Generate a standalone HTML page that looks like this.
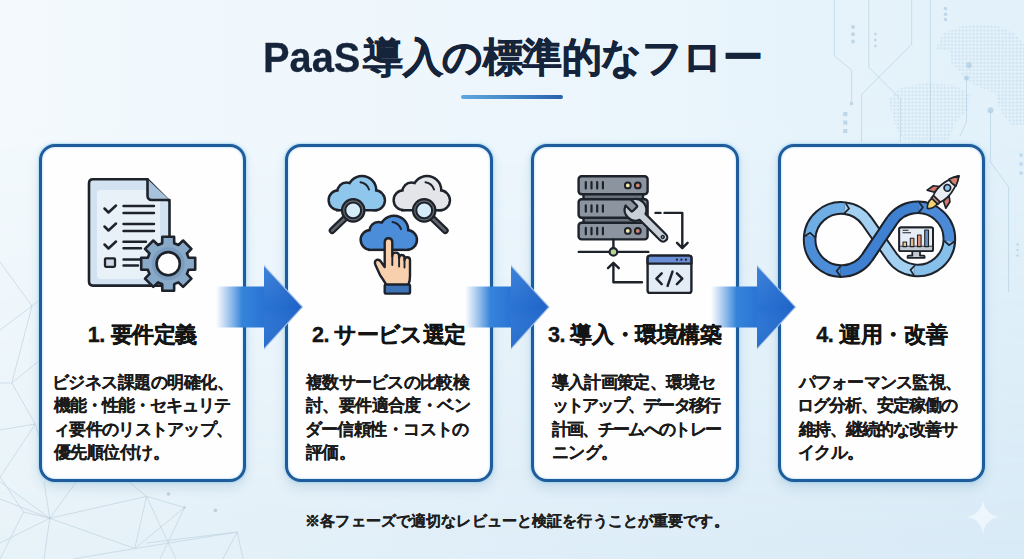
<!DOCTYPE html>
<html lang="ja">
<head>
<meta charset="utf-8">
<style>
html,body{margin:0;padding:0;}
body{width:1024px;height:559px;overflow:hidden;position:relative;
 font-family:"Liberation Sans",sans-serif;
 background:linear-gradient(90deg,#e8f3f8 0%,#dfeef8 50%,#d9ebf7 100%);}
.bgtop{position:absolute;left:0;top:0;width:1024px;height:559px;
 background:linear-gradient(90deg,#f3f9fd 0%,#edf6fc 50%,#e2f1fa 100%);
 -webkit-mask-image:linear-gradient(180deg,#000 0%,#000 20%,rgba(0,0,0,0.55) 60%,rgba(0,0,0,0) 100%);}
.bg{position:absolute;left:0;top:0;width:1024px;height:559px;}
.tl1{position:absolute;left:263px;top:32.5px;font-size:43px;font-weight:bold;color:#15243a;white-space:nowrap;
 transform:scaleX(0.925);transform-origin:0 0;-webkit-text-stroke:0.3px #15243a;}
.tl2{position:absolute;left:363.4px;top:30px;font-size:40px;font-weight:bold;color:#15243a;white-space:nowrap;
 -webkit-text-stroke:0.7px #15243a;letter-spacing:-0.53px;}
.uline{position:absolute;left:461px;top:95px;width:102px;height:4px;border-radius:2px;
 background:linear-gradient(90deg,#5ea9de,#2a62ac);}
.card{position:absolute;top:144px;width:201px;height:332px;border:3px solid #1f5c9b;border-radius:16px;background:#fefeff;
 box-shadow:0 0 1px 1px rgba(140,205,240,0.45),0 0 5px 0px rgba(120,195,235,0.22),0 6px 12px rgba(40,100,150,0.14),inset 0 0 2px 1px rgba(160,215,245,0.45);}
.h{position:absolute;top:319.5px;font-size:21.6px;font-weight:bold;color:#141414;
 -webkit-text-stroke:0.35px #141414;white-space:nowrap;}
.t{position:absolute;font-size:17px;line-height:23.3px;font-weight:bold;color:#1a1a1a;white-space:nowrap;
 -webkit-text-stroke:0.1px #1a1a1a;}
.note{position:absolute;top:512px;left:305.2px;letter-spacing:0.126px;font-size:15px;font-weight:bold;color:#1e1e1e;white-space:nowrap;
 -webkit-text-stroke:0.2px #1e1e1e;}
svg.ov{position:absolute;left:0;top:0;z-index:1;}
.h,.t,.note{z-index:2;}
</style>
</head>
<body>
<div class="bgtop"></div>
<svg class="bg" width="1024" height="559" viewBox="0 0 1024 559">
<defs>
<pattern id="dots" x="0" y="0" width="3.6" height="3.6" patternUnits="userSpaceOnUse">
<rect x="0.6" y="0.6" width="2" height="2" fill="#9fc2de"/>
</pattern>
<radialGradient id="spk" cx="0.5" cy="0.5" r="0.5"><stop offset="0" stop-color="#fff" stop-opacity="0.9"/><stop offset="1" stop-color="#fff" stop-opacity="0.5"/></radialGradient>
</defs>
<g opacity="0.32" fill="url(#dots)">
<path d="M935,50 L943,33 L965,25 L995,25 L1014,33 L1024,44 V50 Z"/>
<path d="M950,50 H1024 V92 H992 L976,86 L962,76 L951,62 Z"/>
<path d="M889,100 L899,88 L925,83 L955,85 L970,94 L968,110 L956,121 L948,141 H904 L895,126 Z"/>
<path d="M995,92 H1024 V125 H1011 L1000,110 Z"/>
</g>
<g fill="none" stroke="#abc9de" stroke-width="0.9" opacity="0.6">
<path d="M834.4,0 V55.8 L851.6,70.2 V102"/>
<path d="M868.8,0 V67.3 L900.3,98.8 V142"/>
<path d="M911.7,0 V44.4 L861.6,94.5 V142"/>
<path d="M930.4,0 V142"/>
<path d="M966.5,78 V122 L960,136"/>
<path d="M990.5,110 V162 L1008.6,187 V292"/>
</g>
<g fill="#a7c6dd" opacity="0.6">
<circle cx="853" cy="27" r="2"/><circle cx="853" cy="34.2" r="2"/><circle cx="853" cy="41.5" r="2"/>
<rect x="874.2" y="32.8" width="2.4" height="2.4"/><rect x="874.2" y="38.8" width="2.4" height="2.4"/><rect x="874.2" y="44.8" width="2.4" height="2.4"/>
<circle cx="945.5" cy="8.6" r="1.8"/><circle cx="945.5" cy="14.3" r="1.8"/><circle cx="945.5" cy="19.5" r="1.8"/>
<rect x="843.2" y="112" width="4.2" height="4.2"/><rect x="843.2" y="120.5" width="4.2" height="4.2"/><rect x="843.2" y="129" width="4.2" height="4.2"/>
<rect x="850" y="102" width="3.2" height="3.2"/>
<circle cx="990.5" cy="110.3" r="3"/><rect x="1019.5" y="153.5" width="3.2" height="3.2"/><rect x="1019.5" y="162.5" width="3.2" height="3.2"/><rect x="1019.5" y="171.5" width="3.2" height="3.2"/><circle cx="1017.6" cy="244.5" r="1.2"/><circle cx="1017.6" cy="250" r="1.2"/><circle cx="1017.6" cy="255.5" r="1.2"/><circle cx="969" cy="65.3" r="3"/><circle cx="966.5" cy="78" r="2.5"/>
</g>
<g fill="none" stroke="#b9cedd" stroke-width="0.8" opacity="0.75">
<path d="M0,330 L32,306 L40,300 M32,306 L11.8,383 L35.3,424 L0,477 M0,262 L32,306 M0,383 L11.8,383 M11.8,383 L40,360 M35.3,424 L40,440 M0,430 L35.3,424 M23.5,512 L0,477"/>
<path d="M0,481.7 L49.8,518.3 L0,499 M49.8,518.3 L44,481.7 M49.8,518.3 L76,482 M49.8,518.3 L0,543 M49.8,518.3 L146.5,496.4 M49.8,518.3 L134.8,548.5 M49.8,518.3 L44,559 M146.5,496.4 L134.8,548.5 M146.5,496.4 L184.6,507.5 M146.5,496.4 L129,482 M146.5,496.4 L176,559 M134.8,548.5 L184.6,507.5 M134.8,548.5 L73,559 M146.5,543 L237.3,532 M237.3,532 L243,559 M237.3,532 L222.7,559 M184.6,507.5 L160,559 M134.8,548.5 L237.3,532 M0,559 L23.5,512 M23.5,512 L49.8,518.3"/>
</g>
<g fill="#b3c8d8" opacity="0.8">
<circle cx="168.5" cy="494" r="1.8"/><circle cx="215.4" cy="510.4" r="1.8"/><circle cx="184.6" cy="507.5" r="1.2"/><circle cx="49.8" cy="518.3" r="1"/>
</g>
<path d="M983,500 Q985,515 999,517 Q985,519 983,534 Q981,519 967,517 Q981,515 983,500 Z" fill="#f4faff" opacity="0.75"/>
</svg>

<div class="tl1">PaaS</div><div class="tl2">導入の標準的なフロー</div>
<div class="uline"></div>

<div class="card" style="left:39px"></div>
<div class="card" style="left:285px;width:202px"></div>
<div class="card" style="left:531px;width:202px"></div>
<div class="card" style="left:778px"></div>

<!--H-->
<div class="h" style="left:87.70px;letter-spacing:-0.367px">1. 要件定義</div>
<div class="h" style="left:312.10px;letter-spacing:-0.625px">2. サービス選定</div>
<div class="h" style="left:547.90px;letter-spacing:-0.467px">3. 導入・環境構築</div>
<div class="h" style="left:816.20px;letter-spacing:-0.357px">4. 運用・改善</div>
<!--/H-->

<!--TEXT-->
<div class="t" style="left:52.00px;top:371.0px;letter-spacing:-0.550px">ビジネス課題の明確化、</div>
<div class="t" style="left:54.00px;top:394.3px;letter-spacing:-1.000px">機能・性能・セキュリテ</div>
<div class="t" style="left:53.00px;top:417.6px;letter-spacing:-0.700px">ィ要件のリストアップ、</div>
<div class="t" style="left:54.00px;top:440.9px;letter-spacing:-0.583px">優先順位付け。</div>
<div class="t" style="left:306.00px;top:371.0px;letter-spacing:-0.722px">複数サービスの比較検</div>
<div class="t" style="left:306.00px;top:394.3px;letter-spacing:-0.611px">討、要件適合度・ベン</div>
<div class="t" style="left:304.50px;top:417.6px;letter-spacing:-0.556px">ダー信頼性・コストの</div>
<div class="t" style="left:306.00px;top:440.9px;letter-spacing:-0.750px">評価。</div>
<div class="t" style="left:551.50px;top:371.0px;letter-spacing:-0.611px">導入計画策定、環境セ</div>
<div class="t" style="left:551.50px;top:394.3px;letter-spacing:-1.750px">ットアップ、データ移行</div>
<div class="t" style="left:551.50px;top:417.6px;letter-spacing:-1.650px">計画、チームへのトレー</div>
<div class="t" style="left:551.50px;top:440.9px;letter-spacing:-0.500px">ニング。</div>
<div class="t" style="left:798.50px;top:371.0px;letter-spacing:-0.722px">パフォーマンス監視、</div>
<div class="t" style="left:796.50px;top:394.3px;letter-spacing:-1.000px">ログ分析、安定稼働の</div>
<div class="t" style="left:798.50px;top:417.6px;letter-spacing:-1.222px">維持、継続的な改善サ</div>
<div class="t" style="left:797.50px;top:440.9px;letter-spacing:-0.500px">イクル。</div>
<!--/TEXT-->

<div class="note">※各フェーズで適切なレビューと検証を行うことが重要です。</div>

<svg class="ov" width="1024" height="559" viewBox="0 0 1024 559">
<defs>
 <linearGradient id="ag" x1="0" x2="1" y1="0" y2="0">
  <stop offset="0" stop-color="#4a90dc" stop-opacity="0"/>
  <stop offset="0.13" stop-color="#4a90dc" stop-opacity="0.45"/>
  <stop offset="0.3" stop-color="#3584da" stop-opacity="1"/>
  <stop offset="0.55" stop-color="#2a74d4"/>
  <stop offset="1" stop-color="#1f63c7"/>
 </linearGradient>
 <linearGradient id="ah" x1="0" x2="0" y1="0" y2="1">
  <stop offset="0" stop-color="#ffffff" stop-opacity="0.10"/>
  <stop offset="0.5" stop-color="#ffffff" stop-opacity="0"/>
  <stop offset="1" stop-color="#0a3d8a" stop-opacity="0.12"/>
 </linearGradient>
</defs>
<g id="ic1" stroke="#1d222b" stroke-width="2.6" stroke-linejoin="round" stroke-linecap="round">
 <path d="M93,179.3 H147.5 L169.5,201.3 V281.5 Q169.5,285.6 165.4,285.6 H93 Q89,285.6 89,281.5 V183.4 Q89,179.3 93,179.3 Z" fill="#d3e2f0"/>
 <rect x="97" y="190" width="63" height="89" rx="3" fill="#e8f0f8" stroke="none"/>
 <path d="M147.5,179.3 V195.5 Q147.5,200 152,200 H169.5" fill="#a8c2dc"/>
 <path d="M104.5,208.5 L108.5,212.5 L116,205.5 M104.5,226.5 L108.5,230.5 L116,223.5 M104.5,244.5 L108.5,248.5 L116,241.5" fill="none" stroke-width="2.5"/>
 <rect x="105" y="258.3" width="10" height="8.5" rx="1" fill="#cdd9e6" stroke-width="2.3"/>
 <path d="M123.5,206 H154 M123.5,213 H154 M123.5,224 H154 M123.5,231 H154 M123.5,241.8 H146 M123.5,248.2 H141 M123.5,259.5 H140 M123.5,265.5 H138" fill="none" stroke-width="2.4"/>
 <path d="M188.6,257.7 L195.2,257.8 L195.2,269.6 L188.6,269.7 L186.9,273.9 L191.4,278.6 L183.1,286.9 L178.4,282.4 L174.2,284.1 L174.1,290.7 L162.3,290.7 L162.2,284.1 L158.0,282.4 L153.3,286.9 L145.0,278.6 L149.5,273.9 L147.8,269.7 L141.2,269.6 L141.2,257.8 L147.8,257.7 L149.5,253.5 L145.0,248.8 L153.3,240.5 L158.0,245.0 L162.2,243.3 L162.3,236.7 L174.1,236.7 L174.2,243.3 L178.4,245.0 L183.1,240.5 L191.4,248.8 L186.9,253.5Z" fill="#89a9c8"/>
 <circle cx="168.2" cy="263.7" r="16.5" fill="#7a9cbe" stroke="none"/>
 <circle cx="168.2" cy="263.7" r="11.6" fill="#ffffff"/>
</g>
<g id="ic2"><g fill="#1d222b" stroke="#1d222b" stroke-width="5.0"><circle cx="338.5" cy="200.2" r="8.6"/><circle cx="346.5" cy="191.5" r="7.8"/><circle cx="362.0" cy="190.3" r="13"/><circle cx="375.0" cy="200.3" r="8.7"/><rect x="338.5" y="196.0" width="36.5" height="13"/></g><g fill="#8fc6ec" stroke="none"><circle cx="338.5" cy="200.2" r="8.6"/><circle cx="346.5" cy="191.5" r="7.8"/><circle cx="362.0" cy="190.3" r="13"/><circle cx="375.0" cy="200.3" r="8.7"/><rect x="338.5" y="196.0" width="36.5" height="13"/></g><path d="M360.5,182.3 Q367.0,183.5 369.0,189.5" fill="none" stroke="#1d222b" stroke-width="2" stroke-linecap="round"/><g fill="#1d222b" stroke="#1d222b" stroke-width="5.0"><circle cx="403.5" cy="200.2" r="8.6"/><circle cx="411.5" cy="191.5" r="7.8"/><circle cx="427.0" cy="190.3" r="13"/><circle cx="440.0" cy="200.3" r="8.7"/><rect x="403.5" y="196.0" width="36.5" height="13"/></g><g fill="#e3e5e8" stroke="none"><circle cx="403.5" cy="200.2" r="8.6"/><circle cx="411.5" cy="191.5" r="7.8"/><circle cx="427.0" cy="190.3" r="13"/><circle cx="440.0" cy="200.3" r="8.7"/><rect x="403.5" y="196.0" width="36.5" height="13"/></g><path d="M425.5,182.3 Q432.0,183.5 434.0,189.5" fill="none" stroke="#1d222b" stroke-width="2" stroke-linecap="round"/><line x1="346.0" y1="217.3" x2="332.2" y2="230.6" stroke="#1d222b" stroke-width="7" stroke-linecap="round"/><line x1="344.6" y1="218.7" x2="332.2" y2="230.6" stroke="#62666c" stroke-width="2.6" stroke-linecap="round"/><circle cx="353.2" cy="210.4" r="11.2" fill="#666b72" stroke="#1d222b" stroke-width="2.2"/><circle cx="353.2" cy="210.4" r="7.9" fill="#d6ebf8" stroke="#1d222b" stroke-width="2"/><line x1="431.4" y1="217.3" x2="445.2" y2="230.6" stroke="#1d222b" stroke-width="7" stroke-linecap="round"/><line x1="432.8" y1="218.7" x2="445.2" y2="230.6" stroke="#62666c" stroke-width="2.6" stroke-linecap="round"/><circle cx="424.2" cy="210.4" r="11.2" fill="#666b72" stroke="#1d222b" stroke-width="2.2"/><circle cx="424.2" cy="210.4" r="7.9" fill="#d6ebf8" stroke="#1d222b" stroke-width="2"/><g fill="#1d222b" stroke="#1d222b" stroke-width="5.0"><circle cx="370.5" cy="239.8" r="8.6"/><circle cx="378.5" cy="231.1" r="7.8"/><circle cx="394.0" cy="229.9" r="13"/><circle cx="407.0" cy="239.9" r="8.7"/><rect x="370.5" y="235.6" width="36.5" height="13"/></g><g fill="#4b8dd8" stroke="none"><circle cx="370.5" cy="239.8" r="8.6"/><circle cx="378.5" cy="231.1" r="7.8"/><circle cx="394.0" cy="229.9" r="13"/><circle cx="407.0" cy="239.9" r="8.7"/><rect x="370.5" y="235.6" width="36.5" height="13"/></g><path d="M392.5,221.9 Q399.0,223.1 401.0,229.1" fill="none" stroke="#1d222b" stroke-width="2" stroke-linecap="round"/><g stroke="#1d222b" stroke-width="2.4" stroke-linejoin="round" stroke-linecap="round">
<path d="M384.7,264 V242.5 Q384.7,238.2 388.5,238.2 Q392.3,238.2 392.3,242.5 V256 Q392.3,252.6 395.7,252.6 Q399.1,252.6 399.1,256 V258 Q399.1,255 401.8,255 Q404.5,255 404.5,258 V260 Q404.5,257.2 407.2,257.2 Q410,257.2 410,260 V276 Q410,281 408.5,284.6 H386.2 Q383.5,280 380,275 L375.5,265 Q374,261 376.5,260 Q379.5,259 381.5,262.5 L384.7,267 Z" fill="#f8d0ae"/>
<path d="M392.3,256 V265 M399.1,258 V266.5 M404.5,260 V267.5" fill="none" stroke-width="1.9"/>
<rect x="384.7" y="284.6" width="25.3" height="9" rx="1" fill="#3e73b6"/>
</g></g>
<g id="ic4" fill="none"><path d="M867.27,257.36 L891.73,221.04 A31.6,31.6 0 1 1 891.73,256.76 L867.27,221.64 A31.6,31.6 0 1 0 867.27,257.36" stroke="#1d222b" stroke-width="13.6"/><path d="M891.73,221.04 A31.6,31.6 0 0 1 918.90,207.32" stroke="#3f80d1" stroke-width="9.6"/><path d="M918.90,207.32 A31.6,31.6 0 0 1 949.32,241.10" stroke="#4a8ad6" stroke-width="9.6"/><path d="M949.32,241.10 A31.6,31.6 0 0 1 914.50,270.33" stroke="#86bfea" stroke-width="9.6"/><path d="M914.50,270.33 A31.6,31.6 0 0 1 891.73,256.76 L867.27,221.64 A31.6,31.6 0 0 0 844.50,208.07" stroke="#a3d0f1" stroke-width="9.6"/><path d="M844.50,208.07 A31.6,31.6 0 0 0 809.72,236.75" stroke="#6eaee5" stroke-width="9.6"/><path d="M809.72,236.75 A31.6,31.6 0 0 0 840.65,271.10" stroke="#4c8dd7" stroke-width="9.6"/><path d="M840.65,271.10 A31.6,31.6 0 0 0 867.27,257.36" stroke="#3f80d1" stroke-width="9.6"/><path d="M867.27,257.36 L891.73,221.04" stroke="#1d222b" stroke-width="13.6"/><path d="M866.30,258.70 A31.6,31.6 0 0 0 867.27,257.36 L891.73,221.04 A31.6,31.6 0 0 1 892.70,219.70" stroke="#3f80d1" stroke-width="9.6"/><path d="M919.08,202.22 L922.90,207.46 L918.72,212.42" stroke="#1d222b" stroke-width="1.7" stroke-linejoin="miter"/><path d="M954.41,241.46 L949.04,245.09 L944.24,240.75" stroke="#1d222b" stroke-width="1.7" stroke-linejoin="miter"/><path d="M913.96,275.40 L910.52,269.91 L915.03,265.25" stroke="#1d222b" stroke-width="1.7" stroke-linejoin="miter"/><path d="M845.67,203.07 L849.02,208.62 L844.43,213.20" stroke="#1d222b" stroke-width="1.7" stroke-linejoin="miter"/><path d="M804.64,236.30 L810.07,232.76 L814.80,237.19" stroke="#1d222b" stroke-width="1.7" stroke-linejoin="miter"/><path d="M840.56,276.19 L836.65,271.03 L840.74,266.00" stroke="#1d222b" stroke-width="1.7" stroke-linejoin="miter"/><g stroke="#1d222b" stroke-width="1.8" stroke-linejoin="round">
<path d="M912.3,251 V255.6 H908.6 Q907.6,255.6 907.6,256.6 V257.8 H924.6 V256.6 Q924.6,255.6 923.6,255.6 H920 V251 Z" fill="#c3c9d0"/>
<rect x="899.2" y="227.4" width="33.8" height="23.8" rx="1.6" fill="#e6edf5"/>
<path d="M899.2,246.6 H933" />
<rect x="899.6" y="246.6" width="33" height="4.2" fill="#c3c9d0" stroke="none"/>
<rect x="899.2" y="227.4" width="33.8" height="23.8" rx="1.6" fill="none"/>
<path d="M902.5,230.3 H908.5 M902.5,232.8 H911" stroke-width="1.1"/>
<rect x="903" y="242" width="3.6" height="4.6" fill="#ecc78e" stroke-width="1.1"/>
<rect x="910.3" y="238.2" width="3.6" height="8.4" fill="#e8b98a" stroke-width="1.1"/>
<rect x="917.5" y="235" width="3.6" height="11.6" fill="#e39275" stroke-width="1.1"/>
<rect x="924.7" y="230" width="3.8" height="16.6" fill="#7391c0" stroke-width="1.1"/>
</g><g transform="translate(936.8,198.8) rotate(44)" stroke="#1d222b" stroke-width="1.7" stroke-linejoin="round">
<path d="M-3.8,2.5 Q-5,9.5 0,13.5 Q5,9.5 3.8,2.5 Z" fill="#f5d46e"/>
<path d="M-6.3,-11 L-11.5,-7 L-13,0.5 L-6.3,-3 Z M6.3,-11 L11.5,-7 L13,0.5 L6.3,-3 Z" fill="#d5776a"/>
<path d="M-4.6,-0.5 H4.6 V3.2 H-4.6 Z" fill="#c9877a"/>
<path d="M-4.8,0 C-7.4,-7 -7.6,-18 0,-31.8 C7.6,-18 7.4,-7 4.8,0 Z" fill="#e9edf2"/>
<path d="M-4.9,-22.5 C-3.6,-26 -2,-29 0,-31.8 C2,-29 3.6,-26 4.9,-22.5 Q0,-20.8 -4.9,-22.5 Z" fill="#d4806e"/>
<circle cx="0" cy="-15.2" r="3.3" fill="#8cc4ea"/>
</g></g>
<g id="ic3" stroke="#1d222b" stroke-width="2.4" stroke-linejoin="round" stroke-linecap="round"><rect x="583.5" y="193" width="59.5" height="7.5" fill="#6b747e"/><rect x="583.5" y="216.5" width="59.5" height="7.5" fill="#6b747e"/><rect x="578.6" y="176.3" width="69" height="17.9" rx="3" fill="#8c959f"/><path d="M585.8,182.1 V188.4 M591.5,182.1 V188.4 M597.2,182.1 V188.4 M602.9,182.1 V188.4" fill="none" stroke-width="2.2"/><rect x="578.6" y="199.2" width="69" height="18.6" rx="3" fill="#8c959f"/><path d="M585.8,205.3 V211.7 M591.5,205.3 V211.7 M597.2,205.3 V211.7 M602.9,205.3 V211.7" fill="none" stroke-width="2.2"/><rect x="578.6" y="222.8" width="69" height="16.6" rx="3" fill="#8c959f"/><path d="M585.8,227.9 V234.3 M591.5,227.9 V234.3 M597.2,227.9 V234.3 M602.9,227.9 V234.3" fill="none" stroke-width="2.2"/><circle cx="627.8" cy="185.4" r="2.9" fill="#f1e8a8" stroke-width="2"/><circle cx="637.8" cy="185.4" r="2.9" fill="#cf8676" stroke-width="2"/><circle cx="627.8" cy="230.9" r="2.9" fill="#f1e8a8" stroke-width="2"/><circle cx="637.8" cy="230.9" r="2.9" fill="#cf8676" stroke-width="2"/><path d="M613.4,239.4 V248 M578.8,251.9 H648.3" fill="none"/><circle cx="613.4" cy="251.9" r="3.8" fill="#b6d59b" stroke-width="2.2"/><path d="M642,282.3 H613.4 V263.5 M608,268.2 L613.4,262.8 L618.8,268.2" fill="none"/><path d="M655.5,212.9 H660.5 M664.5,212.9 H682.3 V247.8 M677,242.8 L682.3,248.2 L687.6,242.8" fill="none"/><rect x="647.6" y="255.6" width="43.8" height="37.3" rx="2.5" fill="#e4ecf6"/><path d="M647.6,263.6 V258.1 Q647.6,255.6 650.1,255.6 H688.9 Q691.4,255.6 691.4,258.1 V263.6 Z" fill="#6b8fd6"/><circle cx="676.9" cy="259.7" r="1.1" fill="#1d222b" stroke="none"/><circle cx="681.4" cy="259.7" r="1.1" fill="#1d222b" stroke="none"/><circle cx="685.9" cy="259.7" r="1.1" fill="#1d222b" stroke="none"/><path d="M661.7,273.3 L656.4,278.7 L661.7,284.1 M667.6,285.9 L672.5,271.6 M676.9,273.3 L682.3,278.7 L676.9,284.1" fill="none" stroke-width="2.5"/><g transform="translate(635.5,209.8) rotate(45)"><path d="M-10.03,-4.0 L-2.3,-4.0 Q-1,-4.0 -1,-2.8 V2.8 Q-1,4.0 -2.3,4.0 L-10.03,4.0 A10.8,10.8 0 0 0 9.95,4.2 L39,4.2 A4.2,4.2 0 0 0 39,-4.2 L9.95,-4.2 A10.8,10.8 0 0 0 -10.03,-4.0 Z" fill="#c8cfd6" stroke-width="2.2"/><circle cx="38.5" cy="0" r="1.4" fill="#fff" stroke-width="1.6"/></g></g>
<g id="arrows">
 <path d="M216,286.5 H264 V265 L303,307 L264,349.5 V327.5 H216 Z" fill="url(#ag)"/>
 <path d="M264,265 L303,307 L264,349.5 Z" fill="url(#ah)"/>
 <path d="M264,265.6 L302.5,307 L264,349" fill="none" stroke="#ffffff" stroke-opacity="0.55" stroke-width="1.2"/>
 <path d="M465,286.5 H511 V265 L549.5,307 L511,349.5 V327.5 H465 Z" fill="url(#ag)"/>
 <path d="M511,265 L549.5,307 L511,349.5 Z" fill="url(#ah)"/>
 <path d="M511,265.6 L549.0,307 L511,349" fill="none" stroke="#ffffff" stroke-opacity="0.55" stroke-width="1.2"/>
 <path d="M711,286.5 H757 V265 L796,307 L757,349.5 V327.5 H711 Z" fill="url(#ag)"/>
 <path d="M757,265 L796,307 L757,349.5 Z" fill="url(#ah)"/>
 <path d="M757,265.6 L795.5,307 L757,349" fill="none" stroke="#ffffff" stroke-opacity="0.55" stroke-width="1.2"/>
</g>
</svg>
</body>
</html>
